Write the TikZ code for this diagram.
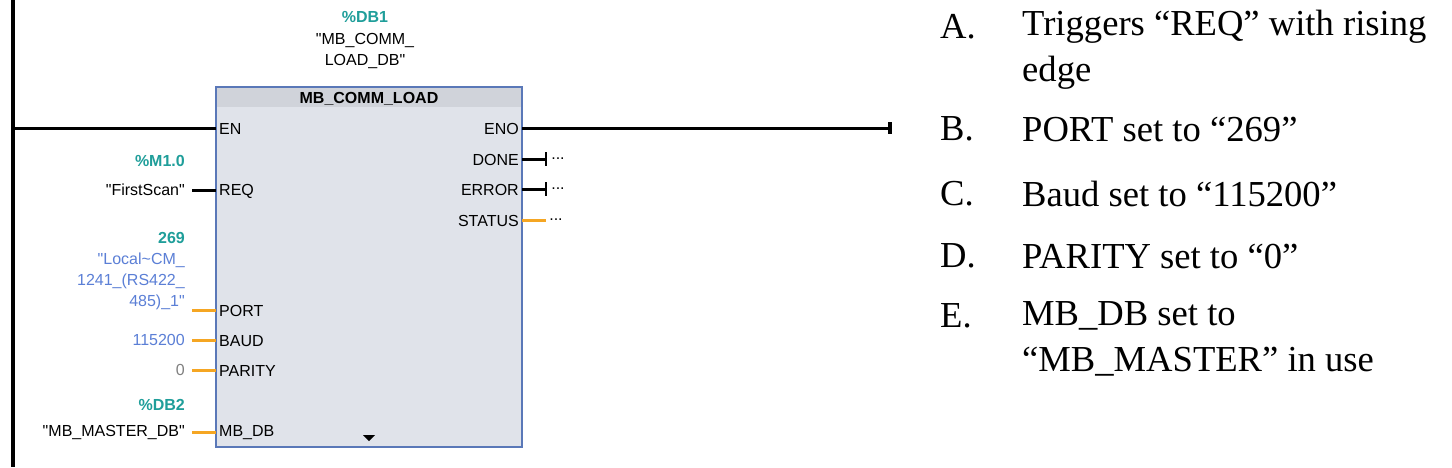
\documentclass[tikz,border=0pt]{standalone}
\usepackage{fontspec}
\setmainfont{Liberation Serif}
\newfontfamily\plc{Liberation Sans}
\definecolor{teal}{HTML}{1F9E9A}
\definecolor{blu}{HTML}{5B7FD6}
\definecolor{org}{HTML}{F5A623}
\definecolor{hdr}{HTML}{D0D3DA}
\definecolor{bdy}{HTML}{E0E3EA}
\definecolor{bord}{HTML}{5A78B8}
\begin{document}
\begin{tikzpicture}[x=1pt,y=-1pt,
  lbl/.style={font=\plc\fontsize{16}{21}\selectfont, inner sep=1pt},
  pin/.style={lbl, anchor=west},
  pout/.style={lbl, anchor=east},
  tag/.style={lbl, anchor=east, text=teal, font=\plc\bfseries\fontsize{16}{21}\selectfont},
  val/.style={lbl, anchor=east},
  wire/.style={line width=3pt},
  owire/.style={line width=3pt, org},
  txt/.style={font=\fontsize{36.6}{40}\selectfont, anchor=west, inner sep=0pt}]
\useasboundingbox (0,0) rectangle (1452,467);
\fill[white] (0,0) rectangle (1452,467);
% rail
\draw[line width=3.5pt] (13,0) -- (13,467);
% block
\fill[bdy] (216,87) rectangle (522,447);
\fill[hdr] (216,87) rectangle (522,107);
\draw[bord, line width=2pt] (216,87) rectangle (522,447);
\node[lbl, font=\plc\bfseries\fontsize{16}{21}\selectfont] (title) at (369,99) {MB\_COMM\_LOAD};
\node[lbl, text=teal, font=\plc\bfseries\fontsize{16}{21}\selectfont] (db1) at (365,17) {\%DB1};
\node[lbl] (db1a) at (365,40) {"MB\_COMM\_};
\node[lbl] (db1b) at (365,61) {LOAD\_DB"};
% inputs
\node[pin] (en) at (218,129) {EN};
\node[pin] (req) at (218,191) {REQ};
\node[pin] (port) at (218,311) {PORT};
\node[pin] (baud) at (218,341) {BAUD};
\node[pin] (par) at (218,371) {PARITY};
\node[pin] (mbdb) at (218,433) {MB\_DB};
% outputs
\node[pout] (eno) at (520,129) {ENO};
\node[pout] (done) at (520,160) {DONE};
\node[pout] (err) at (520,190) {ERROR};
\node[pout] (stat) at (520,221) {STATUS};
\fill (363,435) -- (375,435) -- (369,441) -- cycle;
% EN / ENO wires
\coordinate (enl) at (13,128);
\coordinate (enr) at (216,128);
\draw[wire] (enl) -- (enr);
\coordinate (enoa) at (522,128);
\coordinate (enob) at (890,128);
\draw[wire] (enoa) -- (enob);
\draw[line width=3.5pt] (890,122) -- (890,134);
% outputs wires
\foreach \y in {159,189}{
  \draw[wire] (522,\y) -- (546,\y);
  \draw[line width=2.5pt] (546,\y-7) -- (546,\y+7);
  \node[lbl] at (558,\y) {...};}
\draw[owire] (522,220) -- (546,220);
\node[lbl] at (556,220) {...};
% inputs values
\node[tag] (m10) at (186,161) {\%M1.0};
\node[val] (fs) at (186,190) {"FirstScan"};
\draw[wire] (192,190) -- (216,190);
\node[tag] (p269) at (186,238) {269};
\node[val, text=blu, align=right] (loc) at (186,281) {"Local\textasciitilde CM\_\\1241\_(RS422\_\\485)\_1"};
\draw[owire] (192,310) -- (216,310);
\node[val, text=blu] (b115) at (186,340) {115200};
\draw[owire] (192,340) -- (216,340);
\node[val, text=gray] (zero) at (186,370) {0};
\draw[owire] (192,370) -- (216,370);
\node[tag] (db2) at (186,405) {\%DB2};
\node[val] (mbm) at (186,432) {"MB\_MASTER\_DB"};
\draw[owire] (192,432) -- (216,432);
% right text
\node[txt] at (940,27) {A.};
\node[txt] at (1022,27) {Triggers “REQ” with rising};
\node[txt] at (1022,73) {edge};
\node[txt] at (940,129) {B.};
\node[txt] at (1022,129) {PORT set to “269”};
\node[txt] at (940,194) {C.};
\node[txt] at (1022,194) {Baud set to “115200”};
\node[txt] at (940,256) {D.};
\node[txt] at (1022,256) {PARITY set to “0”};
\node[txt] at (940,316) {E.};
\node[txt] at (1022,316) {MB\_DB set to};
\node[txt] at (1022,362) {“MB\_MASTER” in use};
\end{tikzpicture}
\end{document}
